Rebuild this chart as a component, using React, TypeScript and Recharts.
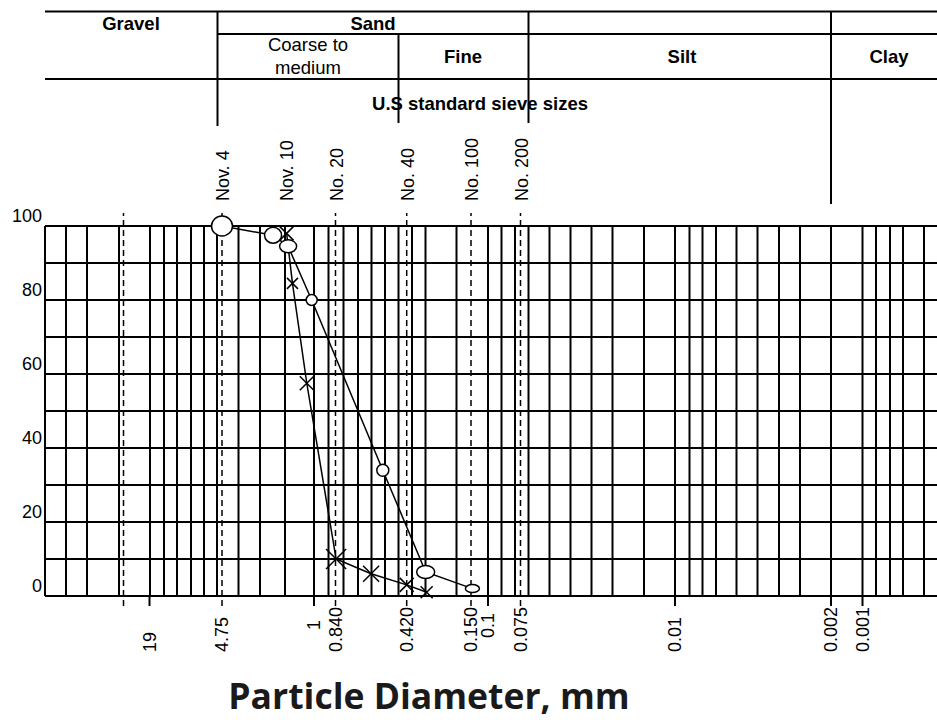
import React from 'react';
import { ComposedChart, Line, XAxis, YAxis, CartesianGrid, ReferenceLine } from 'recharts';

// Log-paper x axis. The printed size labels and where they sit on the paper (0 = left edge of grid).
const sizeLabels = ['19', '4.75', '1', '0.840', '0.420', '0.150', '0.1', '0.075', '0.01', '0.002', '0.001'];
const sizeValues = [19, 4.75, 1, 0.84, 0.42, 0.15, 0.1, 0.075, 0.01, 0.002, 0.001];
const sizeAt = [104.5, 177, 269, 290.5, 361.7, 426, 443, 475.5, 630, 786, 817.5];

// printed rulings of the paper
const paperRulings = [
  21, 42, 74, 105, 119, 132, 146, 159, 172, 193.5, 215, 240, 269, 283.5, 298.5, 313, 326.5, 340,
  353.5, 367, 380.5, 411.5, 443, 456.5, 470, 483.5, 504.5, 525.5, 546.5, 567.5, 599, 630, 644.5,
  657.5, 671, 691.5, 712.5, 734, 755, 786, 817.5, 831, 845, 858, 879,
];

// U.S. standard sieves
const sieveNames = ['', 'Nov. 4', 'Nov. 10', 'No. 20', 'No. 40', 'No. 100', 'No. 200'];
const sieveAt = [78.5, 177, 241, 290.5, 361.7, 426, 475.5];
const sieveDashed = [true, true, false, true, true, true, true];

const pctTicks = [0, 10, 20, 30, 40, 50, 60, 70, 80, 90, 100];

// sample drawn with circles
const circleDiameter = [4.75, 2.0, 1.55, 1.04, 0.53, 0.31, 0.145];
const circlePassing = [100, 97.5, 94.5, 80, 34, 6.5, 2];

// sample drawn with crosses
const crossDiameter = [1.59, 1.44, 1.13, 0.835, 0.594, 0.42, 0.305];
const crossPassing = [98, 84.5, 57.5, 10, 6, 3, 1];

// marker looks (hand drawn in the original, sizes vary)
const circleRx = [10.5, 8.5, 8.5, 5.5, 6, 9, 7];
const circleRy = [10, 8, 6.5, 5.5, 6, 6.5, 4];
const crossSize = [7, 5.5, 7, 10, 8, 7, 6];

const FONT = '"Liberation Sans", Arial, sans-serif';

// diameter -> position on the paper, log-interpolated between printed labels
const paperPos = (d: number) => {
  for (let i = 0; i < sizeValues.length - 1; i++) {
    const a = sizeValues[i];
    const b = sizeValues[i + 1];
    if (d <= a && d >= b) {
      const t = (Math.log10(a) - Math.log10(d)) / (Math.log10(a) - Math.log10(b));
      return sizeAt[i] + t * (sizeAt[i + 1] - sizeAt[i]);
    }
  }
  return d > sizeValues[0] ? sizeAt[0] : sizeAt[sizeAt.length - 1];
};

const SizeTick = (props: any) => {
  const { x, y, payload } = props;
  const i = sizeAt.indexOf(payload.value);
  if (i < 0) return null;
  const label = sizeLabels[i];
  const onDashed = sieveAt.some((s, k) => s === payload.value && sieveDashed[k]);
  const lift = label === '1' ? 22 : label === '0.1' ? 14 : 0;
  const ty = y + 56 - lift;
  return (
    <g>
      {!onDashed && <line x1={x} y1={y} x2={x} y2={y + 10} stroke="#000" strokeWidth={2} />}
      <text
        x={x}
        y={ty}
        dy="0.35em"
        transform={`rotate(-90 ${x} ${ty})`}
        textAnchor="start"
        fontSize={18}
        fontFamily={FONT}
        fill="#000"
      >
        {label}
      </text>
    </g>
  );
};

const PctTick = (props: any) => {
  const { x, y, payload } = props;
  if (payload.value % 20 !== 0) return null;
  return (
    <text x={x - 3} y={y - 10} dy="0.35em" textAnchor="end" fontSize={18} fontFamily={FONT} fill="#000">
      {payload.value}
    </text>
  );
};

const SieveLabel = (props: any) => {
  const { viewBox, text } = props;
  if (!text || !viewBox) return null;
  const x = viewBox.x + 1;
  const y = viewBox.y - 12;
  return (
    <text
      x={x}
      y={y}
      dy="0.35em"
      transform={`rotate(-90 ${x} ${y})`}
      textAnchor="start"
      fontSize={18}
      fontFamily={FONT}
      fill="#000"
    >
      {text}
    </text>
  );
};

const CircleDot = (props: any) => {
  const { cx, cy, index } = props;
  return (
    <ellipse cx={cx} cy={cy} rx={circleRx[index]} ry={circleRy[index]} fill="#fff" stroke="#000" strokeWidth={1.5} />
  );
};

const CrossDot = (props: any) => {
  const { cx, cy, index } = props;
  const s = crossSize[index];
  return (
    <g>
      <line x1={cx - s} y1={cy - s} x2={cx + s} y2={cy + s} stroke="#000" strokeWidth={1.5} />
      <line x1={cx - s} y1={cy + s} x2={cx + s} y2={cy - s} stroke="#000" strokeWidth={1.5} />
    </g>
  );
};

const Header = () => {
  const bold = { fontFamily: FONT, fontSize: 18.5, fontWeight: 700, fill: '#000', textAnchor: 'middle' as const };
  const plain = { fontFamily: FONT, fontSize: 18.5, fill: '#000', textAnchor: 'middle' as const };
  return (
    <svg width={937} height={720} style={{ position: 'absolute', left: 0, top: 0, pointerEvents: 'none' }}>
      <g stroke="#000" strokeWidth={2}>
        <line x1={45} y1={11.5} x2={937} y2={11.5} />
        <line x1={217} y1={34} x2={937} y2={34} />
        <line x1={45} y1={79} x2={937} y2={79} />
        <line x1={217.5} y1={11} x2={217.5} y2={126} />
        <line x1={398.5} y1={34} x2={398.5} y2={123} />
        <line x1={528.5} y1={11} x2={528.5} y2={123} />
        <line x1={831} y1={11} x2={831} y2={204} />
      </g>
      <text x={131} y={29.5} {...bold}>Gravel</text>
      <text x={373} y={29.5} {...bold}>Sand</text>
      <text x={308} y={51} {...plain}>Coarse to</text>
      <text x={308} y={74} {...plain}>medium</text>
      <text x={463} y={63} {...bold}>Fine</text>
      <text x={682} y={63} {...bold}>Silt</text>
      <text x={889} y={63} {...bold}>Clay</text>
      <text x={480} y={110} {...bold}>U.S standard sieve sizes</text>
      <text
        x={429}
        y={709}
        textAnchor="middle"
        fontFamily='"Open Sans", sans-serif'
        fontWeight={700}
        fontSize={35.5}
        fill="#1a1a1a"
      >
        Particle Diameter, mm
      </text>
    </svg>
  );
};

export default function App() {
  const circleData = circleDiameter.map((d, i) => ({ pos: paperPos(d), pct: circlePassing[i] }));
  const crossData = crossDiameter.map((d, i) => ({ pos: paperPos(d), pct: crossPassing[i] }));

  return (
    <div style={{ position: 'absolute', left: 0, top: 0, width: 937, height: 720, background: '#fff' }}>
      <ComposedChart width={937} height={720} margin={{ top: 226, right: 0, bottom: 0, left: 0 }}>
        <CartesianGrid stroke="#000" strokeWidth={2} vertical={false} />
        <XAxis
          type="number"
          dataKey="pos"
          domain={[0, 892]}
          ticks={sizeAt}
          interval={0}
          tick={<SizeTick />}
          tickLine={false}
          tickSize={0}
          tickMargin={0}
          axisLine={{ stroke: '#000', strokeWidth: 2 }}
          height={124}
          allowDataOverflow
        />
        <YAxis
          type="number"
          domain={[0, 100]}
          ticks={pctTicks}
          interval={0}
          tick={<PctTick />}
          tickLine={false}
          tickSize={0}
          tickMargin={0}
          axisLine={{ stroke: '#000', strokeWidth: 2 }}
          width={45}
        />
        {paperRulings.map((r) => (
          <ReferenceLine key={`r-${r}`} x={r} stroke="#000" strokeWidth={2} ifOverflow="visible" />
        ))}
        {sieveAt.map((at, i) => (
          <ReferenceLine
            key={`sieve-${i}`}
            segment={[
              { x: at, y: -2.7 },
              { x: at, y: 103.5 },
            ]}
            ifOverflow="visible"
            stroke={sieveDashed[i] ? '#000' : 'none'}
            strokeWidth={1.5}
            strokeDasharray="6 4"
            label={<SieveLabel text={sieveNames[i]} />}
          />
        ))}
        <Line
          data={circleData}
          dataKey="pct"
          stroke="#000"
          strokeWidth={1.5}
          dot={(p: any) => <CircleDot key={`c-${p.index}`} {...p} />}
          activeDot={false}
          isAnimationActive={false}
          legendType="none"
        />
        <Line
          data={crossData}
          dataKey="pct"
          stroke="#000"
          strokeWidth={1.5}
          dot={(p: any) => <CrossDot key={`x-${p.index}`} {...p} />}
          activeDot={false}
          isAnimationActive={false}
          legendType="none"
        />
      </ComposedChart>
      <Header />
    </div>
  );
}
